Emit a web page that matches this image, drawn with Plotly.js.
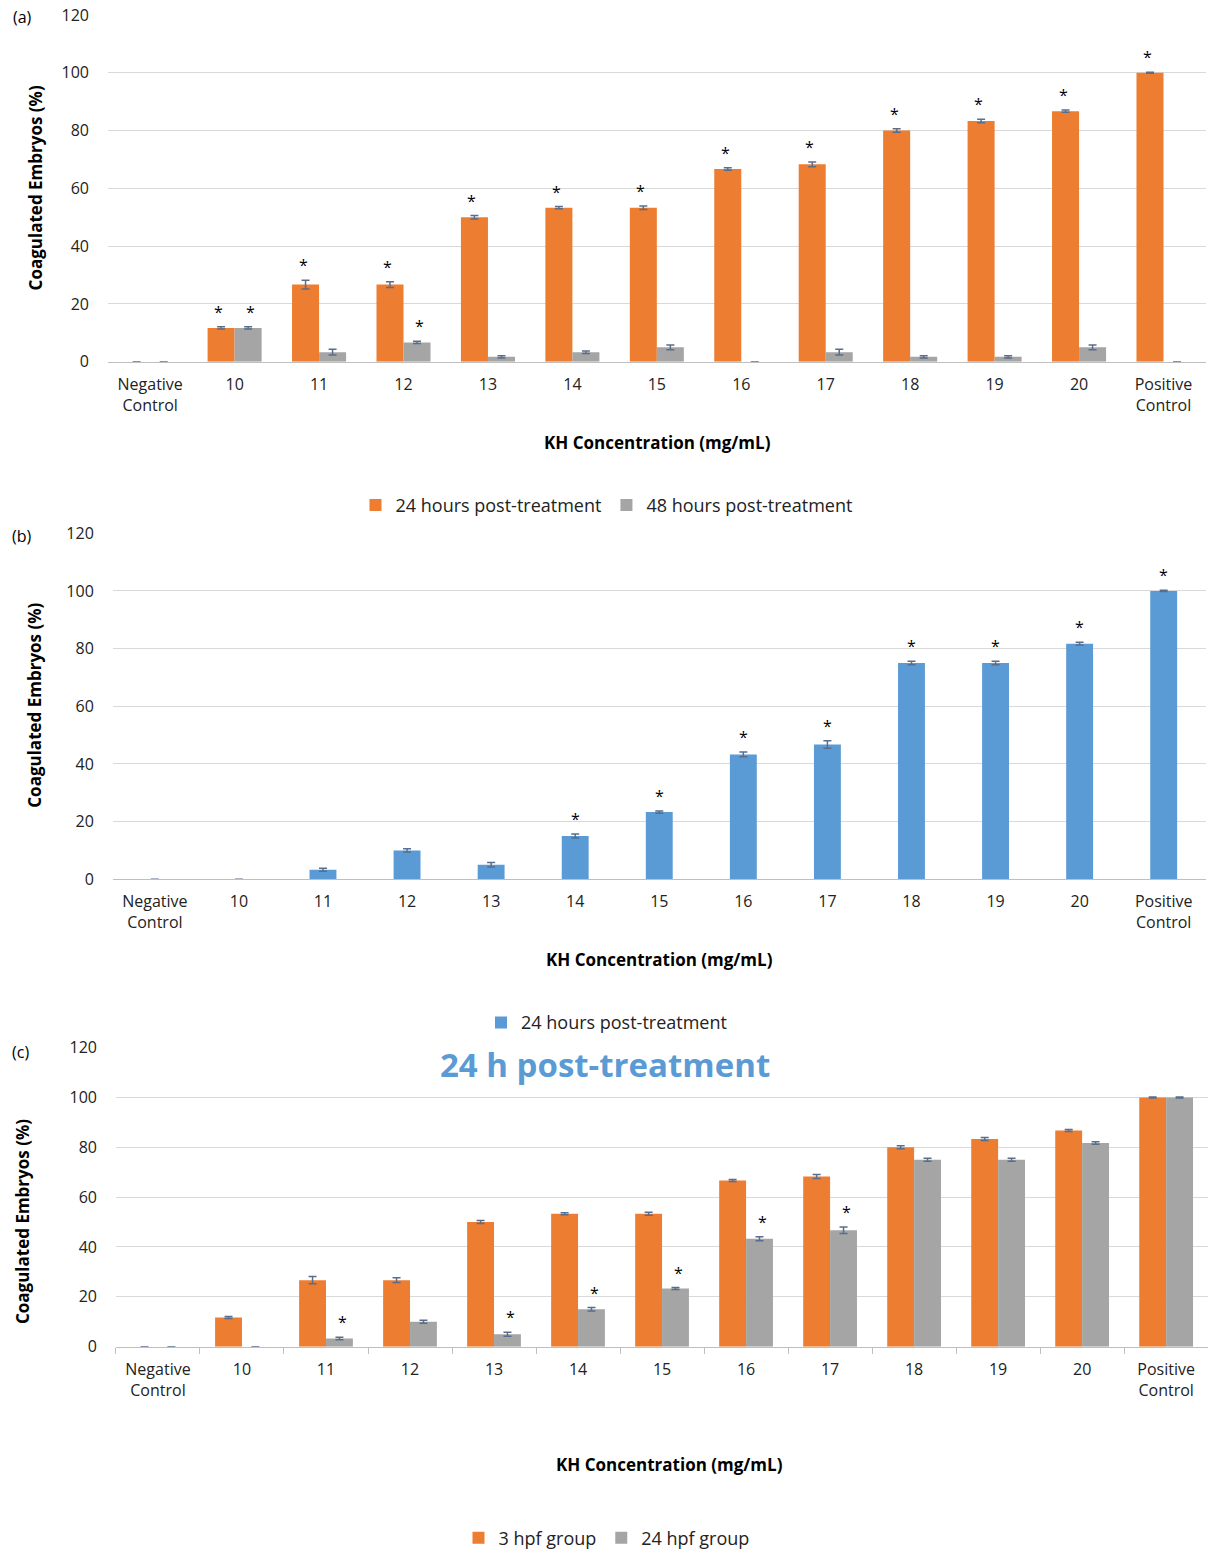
<!DOCTYPE html>
<html><head><meta charset="utf-8">
<script src="https://cdn.plot.ly/plotly-3.0.1.min.js"></script>
<style>body{margin:0}#chart{width:1213px;height:1557px}</style>
</head><body><div id="chart"></div>
<script>
var cats = ['Negative<br>Control','10','11','12','13','14','15','16','17','18','19','20','Positive<br>Control'];
var a24 = [0, 11.7, 26.7, 26.7, 50, 53.3, 53.3, 66.7, 68.3, 80, 83.3, 86.7, 100];
var a24err = [0, 0.4, 1.5, 1, 0.6, 0.4, 0.6, 0.4, 0.8, 0.6, 0.6, 0.4, 0.2];
var a48 = [0, 11.7, 3.3, 6.7, 1.7, 3.3, 5, 0, 3.3, 1.7, 1.7, 5, 0];
var a48err = [0, 0.4, 1, 0.4, 0.4, 0.4, 0.8, 0, 1, 0.4, 0.4, 0.8, 0];
var a24star = [0,1,1,1,1,1,1,1,1,1,1,1,1];
var a48star = [0,1,0,1,0,0,0,0,0,0,0,0,0];
var b24 = [0, 0, 3.3, 10, 5, 15, 23.3, 43.3, 46.7, 75, 75, 81.7, 100];
var b24err = [0, 0, 0.5, 0.6, 0.8, 0.7, 0.4, 0.8, 1.3, 0.6, 0.6, 0.5, 0.2];
var b24star = [0,0,0,0,0,1,1,1,1,1,1,1,1];
var c24star = [0,0,1,0,1,1,1,1,1,0,0,0,0];

var orange = '#ED7D31', grey = '#A5A5A5', blue = '#5B9BD5', errc = '#5a6e8c';
var F = 'Open Sans, Liberation Sans, sans-serif';

function bar(y, err, color, name, xa, ya, leg) {
  return {type:'bar', x:cats, y:y, name:name, xaxis:xa, yaxis:ya, legend:leg,
    marker:{color:color},
    error_y:{type:'data', array:err, color:errc, thickness:1.5, width:4}};
}
var blueBar = bar(b24, b24err, blue, '24 hours post-treatment', 'x2', 'y2', 'legend2');
blueBar.width = 0.32;
var data = [
  bar(a24, a24err, orange, '24 hours post-treatment', 'x', 'y', 'legend'),
  bar(a48, a48err, grey, '48 hours post-treatment', 'x', 'y', 'legend'),
  blueBar,
  bar(a24, a24err, orange, '3 hpf group', 'x3', 'y3', 'legend3'),
  bar(b24, b24err, grey, '24 hpf group', 'x3', 'y3', 'legend3')
];

var ann = [];
function stars(flags, vals, errs, xa, ya, shift) {
  flags.forEach(function(f, i) {
    if (f) ann.push({x:i, y:vals[i] + errs[i], xref:xa, yref:ya, text:'*', showarrow:false,
      xanchor:'center', yanchor:'bottom', xshift:shift, yshift:2, font:{size:16, color:'#000', family:F}});
  });
}
stars(a24star, a24, a24err, 'x', 'y', -16);
stars(a48star, a48, a48err, 'x', 'y', 16);
stars(b24star, b24, b24err, 'x2', 'y2', 0);
stars(c24star, b24, b24err, 'x3', 'y3', 16);

function txt(x, y, t, size, extra) {
  var o = {x:x/1213, y:1-y/1557, xref:'paper', yref:'paper', text:t, showarrow:false,
    xanchor:'center', yanchor:'middle', font:{size:size, color:'#000', family:F}};
  for (var k in extra) o[k] = extra[k];
  ann.push(o);
}
txt(22, 17, '(a)', 16, {});
txt(22, 538, '(b)', 16, {});
txt(20, 1055, '(c)', 16, {});
txt(657, 444, '<b>KH Concentration (mg/mL)</b>', 17, {});
txt(659, 963, '<b>KH Concentration (mg/mL)</b>', 17, {});
txt(670, 1469, '<b>KH Concentration (mg/mL)</b>', 17, {});
txt(35, 189, '<b>Coagulated Embryos (%)</b>', 17, {textangle:-90});
txt(35, 708, '<b>Coagulated Embryos (%)</b>', 17, {textangle:-90});
txt(22, 1226, '<b>Coagulated Embryos (%)</b>', 17, {textangle:-90});
txt(605, 1068, '<b>24 h post-treatment</b>', 33, {font:{size:33, color:'#5B9BD5', family:F}});

function xax(d, anchor, ticks) {
  return {domain:d, anchor:anchor, type:'category', range:[-0.5, 12.5], showgrid:false, showline:true, linecolor:'#bfbfbf',
    ticks:ticks, tickcolor:'#bfbfbf', ticklen:6, tickson:'boundaries', tickangle:0, ticklabelstandoff:8,
    tickfont:{size:16, color:'#222', family:F}};
}
function yax(d, anchor) {
  return {domain:d, anchor:anchor, range:[0,120], dtick:20, gridcolor:'#d9d9d9', zeroline:false,
    ticks:'', ticklabelstandoff:18, tickfont:{size:16, color:'#222', family:F}};
}
function lg(y) {
  return {orientation:'h', x:0.5, xanchor:'center', y:y, yanchor:'middle', font:{size:18, color:'#222', family:F},
    itemwidth:20, bgcolor:'rgba(0,0,0,0)'};
}
var layout = {
  width:1213, height:1557, margin:{l:0, r:0, t:0, b:0},
  paper_bgcolor:'#fff', plot_bgcolor:'#fff',
  barmode:'group', bargap:0.36, bargroupgap:0,
  font:{family:F},
  xaxis: xax([0.089, 0.994], 'y', ''),
  yaxis: yax([0.7669, 0.9904], 'x'),
  xaxis2: xax([0.093, 0.994], 'y2', ''),
  yaxis2: yax([0.4335, 0.6564], 'x2'),
  xaxis3: xax([0.0956, 0.996], 'y3', 'outside'),
  yaxis3: yax([0.1323, 0.3250], 'x3'),
  legend: lg(1-507/1557),
  legend2: lg(1-1026/1557),
  legend3: lg(1-1543/1557),
  annotations: ann
};
Plotly.newPlot('chart', data, layout, {staticPlot:true});
</script></body></html>
